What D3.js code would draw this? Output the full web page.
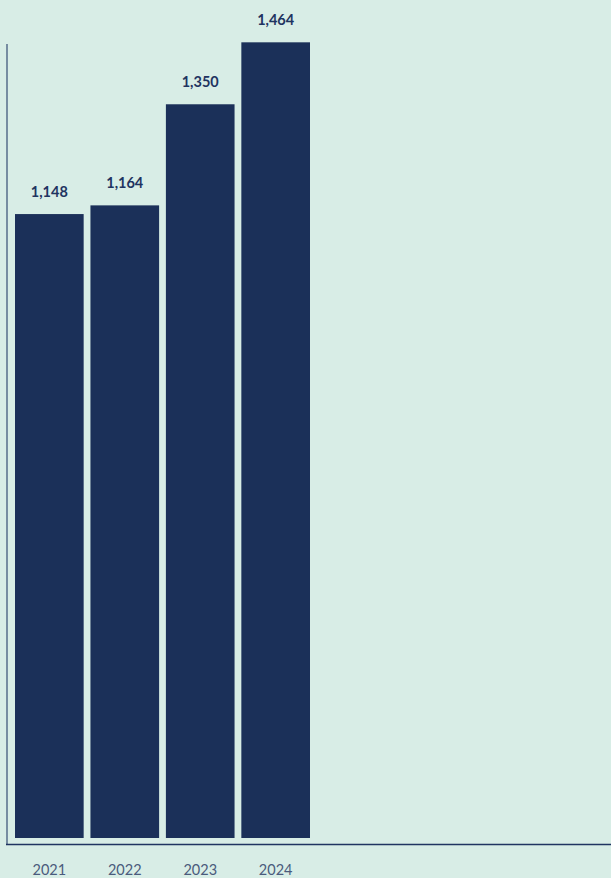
<!DOCTYPE html>
<html>
<head>
<meta charset="utf-8">
<script src="https://cdn.jsdelivr.net/npm/d3@7"></script>
<style>
  html, body { margin: 0; padding: 0; background: #d8ede6; }
  svg { display: block; }
</style>
</head>
<body>
<svg id="chart" width="611" height="878"></svg>
<script>
const categories = ["2021", "2022", "2023", "2024"];
const values = [1148, 1164, 1350, 1464];
const valueLabels = ["1,148", "1,164", "1,350", "1,464"];

const svg = d3.select("#chart");
const W = 611, H = 878;
svg.append("rect").attr("width", W).attr("height", H).attr("fill", "#d8ede6");

const x = d3.scaleBand().domain(categories).range([15, 310]).paddingInner(0.09).paddingOuter(0);
const y = d3.scaleLinear().domain([0, 1500]).range([838, 838 - 1500 * 0.5435]);

const barColor = "#1b3059";

svg.selectAll("rect.bar").data(values).join("rect")
  .attr("class", "bar")
  .attr("x", (d, i) => x(categories[i]))
  .attr("width", x.bandwidth())
  .attr("y", d => y(d))
  .attr("height", d => y(0) - y(d))
  .attr("fill", barColor);

svg.selectAll("text.val").data(values).join("text")
  .attr("class", "val")
  .attr("x", (d, i) => x(categories[i]) + x.bandwidth() / 2)
  .attr("y", d => y(d) - 17)
  .attr("text-anchor", "middle")
  .attr("font-family", "Lato, 'Noto Sans', sans-serif")
  .attr("font-weight", 700)
  .attr("font-size", 14.5)
  .attr("fill", "#1f3461")
  .text((d, i) => valueLabels[i]);

// left axis line
svg.append("line")
  .attr("x1", 7).attr("x2", 7)
  .attr("y1", 44).attr("y2", 845)
  .attr("stroke", "#4e6484").attr("stroke-width", 1.4);

// bottom axis
const xAxis = d3.axisBottom(x).tickSize(0).tickPadding(0);
const gx = svg.append("g").attr("transform", "translate(0,844.5)").call(xAxis);
gx.select(".domain").remove();
gx.append("line").attr("x1", 6).attr("x2", W).attr("y1", 0).attr("y2", 0)
  .attr("stroke", "#1f3461").attr("stroke-width", 1.6);
gx.selectAll(".tick text")
  .attr("dy", 0)
  .attr("y", 30.5)
  .attr("font-family", "Lato, 'Noto Sans', sans-serif")
  .attr("font-size", 14.5)
  .attr("fill", "#4a5b7c");
</script>
</body>
</html>
